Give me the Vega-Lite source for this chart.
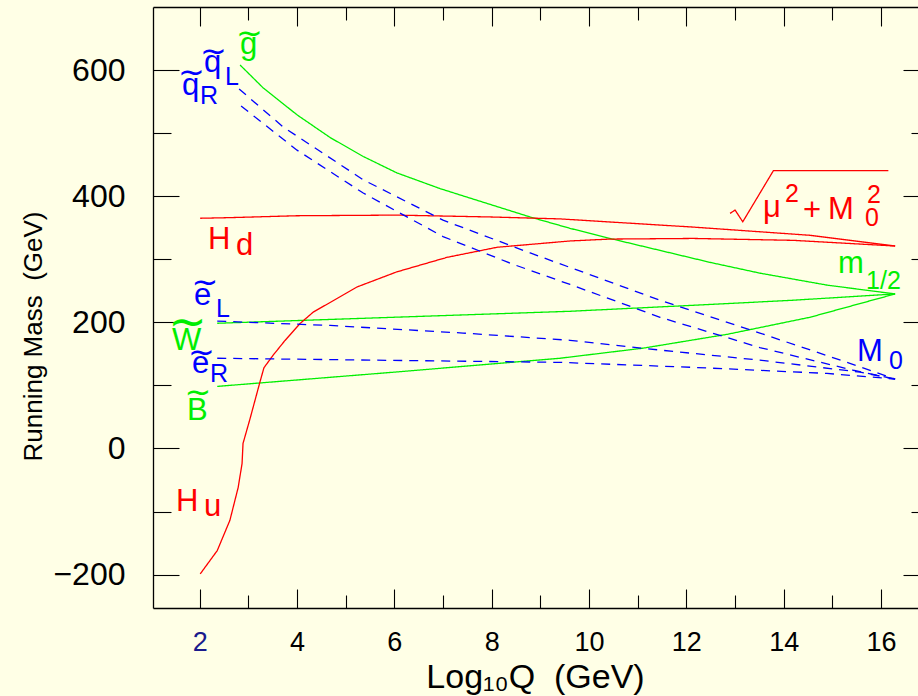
{
  "$schema": "https://vega.github.io/schema/vega-lite/v6.json",
  "width": 765,
  "height": 601,
  "autosize": {"type": "none"},
  "padding": {"left": 153, "top": 7, "right": 0, "bottom": 88},
  "background": "#FFFFE6",
  "config": {"view": {"stroke": null}, "font": "Liberation Sans"},
  "datasets": {
    "curves": [
      {"curve": "gluino", "group": "gaugino", "x": 2.83, "y": 608},
      {"curve": "gluino", "group": "gaugino", "x": 3.30, "y": 572},
      {"curve": "gluino", "group": "gaugino", "x": 4.00, "y": 529},
      {"curve": "gluino", "group": "gaugino", "x": 4.68, "y": 493},
      {"curve": "gluino", "group": "gaugino", "x": 5.36, "y": 463},
      {"curve": "gluino", "group": "gaugino", "x": 6.05, "y": 437},
      {"curve": "gluino", "group": "gaugino", "x": 6.94, "y": 412},
      {"curve": "gluino", "group": "gaugino", "x": 7.76, "y": 392},
      {"curve": "gluino", "group": "gaugino", "x": 8.79, "y": 367},
      {"curve": "gluino", "group": "gaugino", "x": 9.61, "y": 349},
      {"curve": "gluino", "group": "gaugino", "x": 10.43, "y": 333},
      {"curve": "gluino", "group": "gaugino", "x": 11.46, "y": 314},
      {"curve": "gluino", "group": "gaugino", "x": 12.49, "y": 295},
      {"curve": "gluino", "group": "gaugino", "x": 13.51, "y": 278},
      {"curve": "gluino", "group": "gaugino", "x": 14.89, "y": 259},
      {"curve": "gluino", "group": "gaugino", "x": 16.29, "y": 245},
      {"curve": "wino", "group": "gaugino", "x": 2.36, "y": 198.5},
      {"curve": "wino", "group": "gaugino", "x": 9.61, "y": 217.5},
      {"curve": "wino", "group": "gaugino", "x": 12.14, "y": 227},
      {"curve": "wino", "group": "gaugino", "x": 14.19, "y": 235},
      {"curve": "wino", "group": "gaugino", "x": 16.29, "y": 245},
      {"curve": "bino", "group": "gaugino", "x": 2.36, "y": 98.4},
      {"curve": "bino", "group": "gaugino", "x": 6.0, "y": 121},
      {"curve": "bino", "group": "gaugino", "x": 9.40, "y": 143},
      {"curve": "bino", "group": "gaugino", "x": 11.11, "y": 159},
      {"curve": "bino", "group": "gaugino", "x": 12.84, "y": 181},
      {"curve": "bino", "group": "gaugino", "x": 14.54, "y": 208},
      {"curve": "bino", "group": "gaugino", "x": 16.29, "y": 245},
      {"curve": "Hd", "group": "Higgs", "x": 2.01, "y": 365},
      {"curve": "Hd", "group": "Higgs", "x": 2.62, "y": 366},
      {"curve": "Hd", "group": "Higgs", "x": 4.0, "y": 369},
      {"curve": "Hd", "group": "Higgs", "x": 6.05, "y": 370},
      {"curve": "Hd", "group": "Higgs", "x": 8.0, "y": 367},
      {"curve": "Hd", "group": "Higgs", "x": 9.40, "y": 364},
      {"curve": "Hd", "group": "Higgs", "x": 12.14, "y": 351},
      {"curve": "Hd", "group": "Higgs", "x": 14.54, "y": 338},
      {"curve": "Hd", "group": "Higgs", "x": 16.29, "y": 321},
      {"curve": "Hu", "group": "Higgs", "x": 2.01, "y": -199},
      {"curve": "Hu", "group": "Higgs", "x": 2.36, "y": -162},
      {"curve": "Hu", "group": "Higgs", "x": 2.62, "y": -114},
      {"curve": "Hu", "group": "Higgs", "x": 2.79, "y": -62},
      {"curve": "Hu", "group": "Higgs", "x": 2.87, "y": -24},
      {"curve": "Hu", "group": "Higgs", "x": 2.89, "y": 8},
      {"curve": "Hu", "group": "Higgs", "x": 3.03, "y": 46},
      {"curve": "Hu", "group": "Higgs", "x": 3.24, "y": 106},
      {"curve": "Hu", "group": "Higgs", "x": 3.32, "y": 128},
      {"curve": "Hu", "group": "Higgs", "x": 3.51, "y": 148},
      {"curve": "Hu", "group": "Higgs", "x": 3.75, "y": 171},
      {"curve": "Hu", "group": "Higgs", "x": 4.06, "y": 198},
      {"curve": "Hu", "group": "Higgs", "x": 4.33, "y": 216},
      {"curve": "Hu", "group": "Higgs", "x": 5.23, "y": 256},
      {"curve": "Hu", "group": "Higgs", "x": 6.05, "y": 280},
      {"curve": "Hu", "group": "Higgs", "x": 7.08, "y": 303},
      {"curve": "Hu", "group": "Higgs", "x": 8.11, "y": 319},
      {"curve": "Hu", "group": "Higgs", "x": 9.61, "y": 329},
      {"curve": "Hu", "group": "Higgs", "x": 10.43, "y": 332},
      {"curve": "Hu", "group": "Higgs", "x": 12.14, "y": 333},
      {"curve": "Hu", "group": "Higgs", "x": 14.19, "y": 330},
      {"curve": "Hu", "group": "Higgs", "x": 16.29, "y": 321},
      {"curve": "sqrt", "group": "Higgs", "x": 12.898, "y": 372.7},
      {"curve": "sqrt", "group": "Higgs", "x": 13.001, "y": 378},
      {"curve": "sqrt", "group": "Higgs", "x": 13.159, "y": 359.4},
      {"curve": "sqrt", "group": "Higgs", "x": 13.788, "y": 440.4},
      {"curve": "sqrt", "group": "Higgs", "x": 16.151, "y": 440.4},
      {"curve": "qL", "group": "sfermion", "x": 2.81, "y": 570},
      {"curve": "qL", "group": "sfermion", "x": 3.71, "y": 510},
      {"curve": "qL", "group": "sfermion", "x": 5.36, "y": 426},
      {"curve": "qL", "group": "sfermion", "x": 7.00, "y": 362},
      {"curve": "qL", "group": "sfermion", "x": 8.79, "y": 310},
      {"curve": "qL", "group": "sfermion", "x": 9.61, "y": 287},
      {"curve": "qL", "group": "sfermion", "x": 11.46, "y": 235},
      {"curve": "qL", "group": "sfermion", "x": 13.51, "y": 183},
      {"curve": "qL", "group": "sfermion", "x": 15.36, "y": 135},
      {"curve": "qL", "group": "sfermion", "x": 16.29, "y": 110},
      {"curve": "qR", "group": "sfermion", "x": 2.85, "y": 543},
      {"curve": "qR", "group": "sfermion", "x": 4.00, "y": 473},
      {"curve": "qR", "group": "sfermion", "x": 5.36, "y": 405},
      {"curve": "qR", "group": "sfermion", "x": 7.00, "y": 336},
      {"curve": "qR", "group": "sfermion", "x": 8.44, "y": 292},
      {"curve": "qR", "group": "sfermion", "x": 9.61, "y": 260},
      {"curve": "qR", "group": "sfermion", "x": 11.46, "y": 208},
      {"curve": "qR", "group": "sfermion", "x": 13.51, "y": 160},
      {"curve": "qR", "group": "sfermion", "x": 15.43, "y": 124},
      {"curve": "qR", "group": "sfermion", "x": 16.29, "y": 110},
      {"curve": "eL", "group": "sfermion", "x": 2.36, "y": 202},
      {"curve": "eL", "group": "sfermion", "x": 4.68, "y": 195},
      {"curve": "eL", "group": "sfermion", "x": 7.41, "y": 183},
      {"curve": "eL", "group": "sfermion", "x": 9.61, "y": 171.5},
      {"curve": "eL", "group": "sfermion", "x": 11.46, "y": 156},
      {"curve": "eL", "group": "sfermion", "x": 13.51, "y": 140},
      {"curve": "eL", "group": "sfermion", "x": 15.57, "y": 121},
      {"curve": "eL", "group": "sfermion", "x": 16.29, "y": 110},
      {"curve": "eR", "group": "sfermion", "x": 2.36, "y": 143},
      {"curve": "eR", "group": "sfermion", "x": 9.40, "y": 136.5},
      {"curve": "eR", "group": "sfermion", "x": 12.14, "y": 128.6},
      {"curve": "eR", "group": "sfermion", "x": 14.89, "y": 119},
      {"curve": "eR", "group": "sfermion", "x": 16.29, "y": 110}
    ],
    "labels": [
      {"t": "g", "group": "gaugino", "x": 2.828, "y": 624.7},
      {"t": "q", "group": "sfermion", "x": 2.088, "y": 597.2},
      {"t": "q", "group": "sfermion", "x": 1.636, "y": 561.0},
      {"t": "e", "group": "sfermion", "x": 1.883, "y": 227.7},
      {"t": "W", "group": "gaugino", "x": 1.430, "y": 155.4},
      {"t": "e", "group": "sfermion", "x": 1.841, "y": 119.7},
      {"t": "B", "group": "gaugino", "x": 1.739, "y": 45.8},
      {"t": "H", "group": "Higgs", "x": 2.170, "y": 316.7},
      {"t": "d", "group": "Higgs", "x": 2.746, "y": 307.1},
      {"t": "H", "group": "Higgs", "x": 1.513, "y": -99.9},
      {"t": "u", "group": "Higgs", "x": 2.088, "y": -107.6},
      {"t": "m", "group": "gaugino", "x": 15.117, "y": 277.9},
      {"t": "M", "group": "sfermion", "x": 15.508, "y": 139.0},
      {"t": "μ", "group": "Higgs", "x": 13.576, "y": 367.6},
      {"t": "+", "group": "Higgs", "x": 14.398, "y": 362.3},
      {"t": "M", "group": "Higgs", "x": 14.912, "y": 363.5}
    ],
    "subs": [
      {"t": "L", "group": "sfermion", "x": 2.520, "y": 576.6},
      {"t": "R", "group": "sfermion", "x": 2.006, "y": 546.4},
      {"t": "L", "group": "sfermion", "x": 2.335, "y": 208.8},
      {"t": "R", "group": "sfermion", "x": 2.211, "y": 104.8},
      {"t": "1/2", "group": "gaugino", "x": 15.693, "y": 252.5},
      {"t": "0", "group": "sfermion", "x": 16.165, "y": 125.4},
      {"t": "2", "group": "Higgs", "x": 14.028, "y": 390.2},
      {"t": "2", "group": "Higgs", "x": 15.713, "y": 388.8},
      {"t": "0", "group": "Higgs", "x": 15.672, "y": 353.2}
    ],
    "tildes": [
      {"group": "gaugino", "x": 3.023, "y": 656.8},
      {"group": "sfermion", "x": 2.279, "y": 629.0},
      {"group": "sfermion", "x": 1.831, "y": 596.0},
      {"group": "sfermion", "x": 2.109, "y": 262.5},
      {"group": "sfermion", "x": 2.037, "y": 151.3},
      {"group": "gaugino", "x": 1.965, "y": 88.5}
    ],
    "wideTildes": [
      {"group": "gaugino", "x": 1.749, "y": 198.5}
    ]
  },
  "layer": [
    {
      "data": {"name": "curves"},
      "mark": {"type": "line", "strokeWidth": 1.3},
      "encoding": {
        "x": {
          "field": "x", "type": "quantitative",
          "scale": {"domain": [1.04, 16.76], "nice": false, "zero": false},
          "axis": {
            "orient": "bottom",
            "values": [2, 3, 4, 5, 6, 7, 8, 9, 10, 11, 12, 13, 14, 15, 16],
            "labelExpr": "datum.value % 2 === 0 ? datum.label : ''",
            "grid": false,
            "domainColor": "black", "domainWidth": 1.3,
            "tickColor": "black", "tickWidth": 1.1,
            "tickSize": {"condition": {"test": "datum.value % 2 === 0", "value": -19}, "value": -13},
            "labelFont": "Liberation Sans", "labelFontSize": 27,
            "labelColor": {"condition": {"test": "datum.value === 2", "value": "#1a1a8c"}, "value": "black"},
            "labelPadding": 40, "labelFlush": false, "labelOverlap": false,
            "title": "Log₁₀Q\u00a0\u00a0(GeV)",
            "titleFont": "Liberation Sans", "titleFontSize": 34, "titleFontWeight": "normal", "titleColor": "black",
            "titleX": 382, "titleY": 79, "titleBaseline": "alphabetic", "titleAlign": "center"
          }
        },
        "y": {
          "field": "y", "type": "quantitative",
          "scale": {"domain": [-253, 700], "nice": false, "zero": false},
          "axis": {
            "orient": "left",
            "values": [-200, -100, 0, 100, 200, 300, 400, 500, 600],
            "labelExpr": "datum.value % 200 === 0 ? datum.label : ''",
            "grid": false,
            "domainColor": "black", "domainWidth": 1.3,
            "tickColor": "black", "tickWidth": 1.1,
            "tickSize": {"condition": {"test": "datum.value % 200 === 0", "value": -26}, "value": -18},
            "labelFont": "Liberation Sans", "labelFontSize": 32, "labelColor": "black",
            "labelPadding": 54, "labelFlush": false, "labelOverlap": false,
            "title": "Running Mass\u00a0\u00a0(GeV)",
            "titleFont": "Liberation Sans", "titleFontSize": 26, "titleFontWeight": "normal", "titleColor": "black",
            "titleAngle": 270, "titleX": -112, "titleY": 329, "titleBaseline": "alphabetic", "titleAlign": "center"
          }
        },
        "color": {
          "field": "group", "type": "nominal",
          "scale": {"domain": ["Higgs", "gaugino", "sfermion"], "range": ["#ff0000", "#00ee00", "#0000ff"]},
          "legend": null
        },
        "strokeDash": {
          "field": "group", "type": "nominal",
          "scale": {"domain": ["Higgs", "gaugino", "sfermion"], "range": [[1, 0], [1, 0], [9, 7]]},
          "legend": null
        },
        "detail": {"field": "curve"}
      }
    },
    {
      "data": {"name": "labels"},
      "mark": {"type": "text", "align": "left", "baseline": "alphabetic", "fontSize": 31, "font": "Liberation Sans"},
      "encoding": {
        "x": {
          "field": "x", "type": "quantitative",
          "axis": {
            "orient": "top",
            "values": [2, 3, 4, 5, 6, 7, 8, 9, 10, 11, 12, 13, 14, 15, 16],
            "labels": false, "grid": false, "title": null,
            "domainColor": "black", "domainWidth": 1.3,
            "tickColor": "black", "tickWidth": 1.1,
            "tickSize": {"condition": {"test": "datum.value % 2 === 0", "value": -19}, "value": -13}
          }
        },
        "y": {
          "field": "y", "type": "quantitative",
          "axis": {
            "orient": "right",
            "values": [-200, -100, 0, 100, 200, 300, 400, 500, 600],
            "labels": false, "grid": false, "title": null, "domain": false,
            "tickColor": "black", "tickWidth": 1.1,
            "tickSize": {"condition": {"test": "datum.value % 200 === 0", "value": -15}, "value": -7}
          }
        },
        "text": {"field": "t"},
        "color": {"field": "group", "type": "nominal", "legend": null}
      }
    },
    {
      "data": {"name": "subs"},
      "mark": {"type": "text", "align": "left", "baseline": "alphabetic", "fontSize": 25, "font": "Liberation Sans"},
      "encoding": {
        "x": {"field": "x", "type": "quantitative", "axis": null},
        "y": {"field": "y", "type": "quantitative", "axis": null},
        "text": {"field": "t"},
        "color": {"field": "group", "type": "nominal", "legend": null}
      }
    },
    {
      "data": {"name": "tildes"},
      "mark": {"type": "text", "align": "center", "baseline": "middle", "fontSize": 32, "font": "DejaVu Sans"},
      "encoding": {
        "x": {"field": "x", "type": "quantitative", "axis": null},
        "y": {"field": "y", "type": "quantitative", "axis": null},
        "text": {"value": "~"},
        "color": {"field": "group", "type": "nominal", "legend": null}
      }
    },
    {
      "data": {"name": "wideTildes"},
      "mark": {"type": "text", "align": "center", "baseline": "middle", "fontSize": 46, "font": "DejaVu Sans"},
      "encoding": {
        "x": {"field": "x", "type": "quantitative", "axis": null},
        "y": {"field": "y", "type": "quantitative", "axis": null},
        "text": {"value": "~"},
        "color": {"field": "group", "type": "nominal", "legend": null}
      }
    }
  ],
  "resolve": {"axis": {"x": "independent", "y": "independent"}}
}
